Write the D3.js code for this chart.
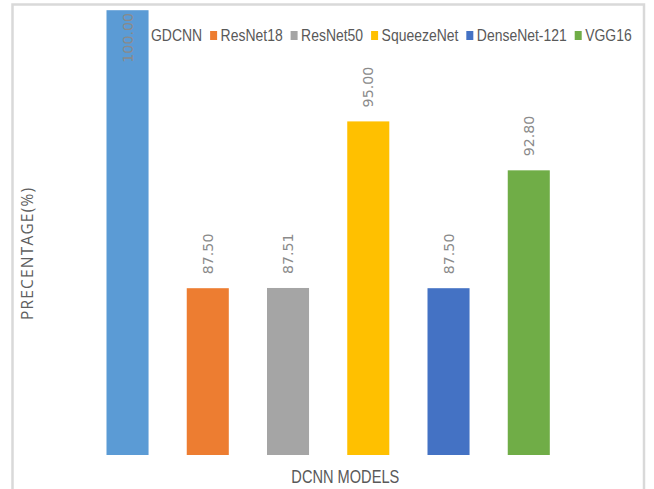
<!DOCTYPE html>
<html>
<head>
<meta charset="utf-8">
<script src="https://cdn.jsdelivr.net/npm/d3@7"></script>
<style>
  html, body { margin: 0; padding: 0; background: #fff; }
  svg { display: block; }
</style>
</head>
<body>
<svg id="chart" width="654" height="489"></svg>
<script>
// Accuracy of each DCNN model (%)
const models = ["GDCNN", "ResNet18", "ResNet50", "SqueezeNet", "DenseNet-121", "VGG16"];
const accuracy = [100.00, 87.50, 87.51, 95.00, 87.50, 92.80];
const colors = ["#5B9BD5", "#ED7D31", "#A5A5A5", "#FFC000", "#4472C4", "#70AD47"];
const yDomain = [80, 100];

const svg = d3.select("#chart");
const W = 654, H = 489;

svg.append("rect").attr("width", W).attr("height", H).attr("fill", "#fff");

// outer chart frame (its bottom edge runs off the canvas)
svg.append("rect")
  .attr("x", 12.5).attr("y", 4.5)
  .attr("width", 631.5).attr("height", 520)
  .attr("fill", "none")
  .attr("stroke", "#d9d9d9")
  .attr("stroke-width", 2.5);

const x = d3.scaleBand().domain(models).range([87.4, 568.9]).paddingInner(0.476).paddingOuter(0.238);
const y = d3.scaleLinear().domain(yDomain).range([455, 10.2]);

const narrowFont = "'Liberation Sans', Arial, sans-serif";

// ---- legend (drawn first; the first bar sits over the GDCNN swatch) ----
const legend = svg.append("g");
const legendItems = legend.selectAll("g").data(models).join("g");
legendItems.append("rect")
  .attr("width", 7).attr("height", 9)
  .attr("y", 31)
  .attr("fill", (d, i) => colors[i]);
const legendText = legendItems.append("text")
  .attr("font-family", narrowFont)
  .attr("font-size", 16.8)
  .attr("fill", "#595959")
  .text(d => d);

const natural = legendText.nodes().map(n => n.getComputedTextLength());
const textStart = 151, textEnd = 631.7, swGap = 10.5, itemGap = 8;
const sx = (textEnd - textStart - (models.length - 1) * (swGap + itemGap)) / d3.sum(natural);
let cursor = textStart;
legendItems.each(function (d, i) {
  const g = d3.select(this);
  g.select("rect").attr("x", cursor - swGap);
  g.select("text").attr("transform", `translate(${cursor},41) scale(${sx},1)`);
  cursor += natural[i] * sx + itemGap + swGap;
});

// ---- bars ----
svg.append("g").selectAll("rect")
  .data(models)
  .join("rect")
  .attr("x", d => x(d))
  .attr("width", x.bandwidth())
  .attr("y", (d, i) => y(accuracy[i]))
  .attr("height", (d, i) => y(yDomain[0]) - y(accuracy[i]))
  .attr("fill", (d, i) => colors[i]);

// ---- value labels, rotated, above each bar ----
const labels = svg.append("g").selectAll("text")
  .data(models)
  .join("text")
  .attr("font-family", "'DejaVu Sans', Verdana, sans-serif")
  .attr("font-size", 14.2)
  .attr("fill", "#8a8a8a")
  .attr("text-anchor", "start")
  .attr("dominant-baseline", "central")
  .text((d, i) => accuracy[i].toFixed(2));

labels.each(function (d, i) {
  const len = this.getComputedTextLength();
  const start = Math.max(y(accuracy[i]) - 14, 13 + len);
  d3.select(this).attr("transform",
    `translate(${x(d) + x.bandwidth() / 2},${start}) rotate(-90)`);
});

// ---- axis titles ----
svg.append("text")
  .attr("font-family", narrowFont)
  .attr("font-size", 17.6)
  .attr("fill", "#595959")
  .attr("text-anchor", "middle")
  .attr("transform", `translate(345.3,483) scale(${sx},1)`)
  .text("DCNN MODELS");

svg.append("text")
  .attr("font-family", "'Open Sans', sans-serif")
  .attr("font-size", 15.5)
  .attr("fill", "#5f5f5f")
  .attr("text-anchor", "middle")
  .attr("textLength", 132)
  .attr("lengthAdjust", "spacing")
  .attr("transform", "translate(33.3,254) rotate(-90)")
  .text("PRECENTAGE(%)");
</script>
</body>
</html>
